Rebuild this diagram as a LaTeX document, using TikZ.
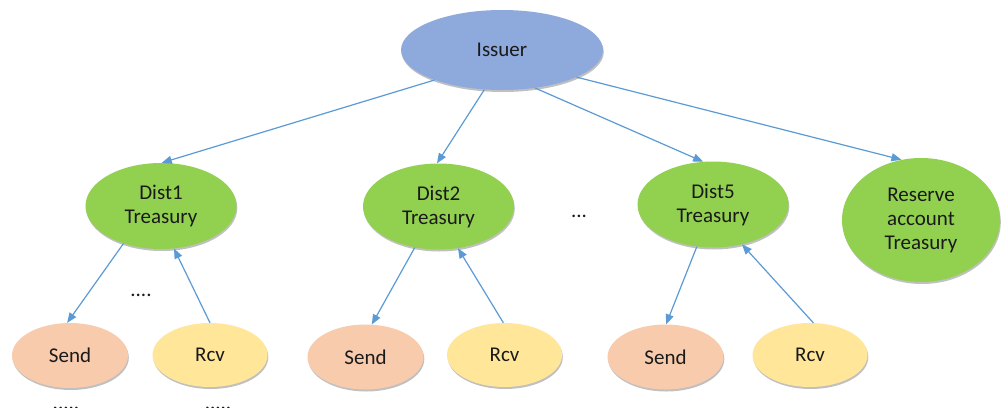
\documentclass[tikz,border=0pt]{standalone}
\usepackage{fontspec}
\setmainfont{Carlito}
\usetikzlibrary{shapes.geometric,arrows.meta,shadows}
\definecolor{lineblue}{HTML}{5B9BD5}
\definecolor{issuerblue}{HTML}{8EA9DB}
\definecolor{treasgreen}{HTML}{92D050}
\definecolor{sendpeach}{HTML}{F8CBAD}
\definecolor{rcvyellow}{HTML}{FFE699}
\definecolor{txt}{HTML}{1A1A1A}
\tikzset{
  bubble/.style={ellipse, inner sep=0pt, text=txt, align=center,
    font=\fontsize{21}{24}\selectfont,
    drop shadow={shadow xshift=0.8pt, shadow yshift=-2pt, opacity=0.35, fill=black!70}},
  issuerbox/.style={bubble, fill=issuerblue, minimum width=202pt, minimum height=80pt},
  treasbox/.style={bubble, fill=treasgreen, minimum width=151pt, minimum height=86pt},
  reservebox/.style={bubble, fill=treasgreen, minimum width=158pt, minimum height=124pt},
  sendbox/.style={bubble, fill=sendpeach, minimum width=116pt, minimum height=65pt},
  rcvbox/.style={bubble, fill=rcvyellow, minimum width=115pt, minimum height=64pt},
  link/.style={draw=lineblue, line width=1.2pt, -{Triangle[length=10pt,width=8pt]}},
  dots/.style={text=txt, font=\fontsize{21}{24}\selectfont, inner sep=0pt}
}
\begin{document}
\begin{tikzpicture}[x=1pt,y=-1pt]
\useasboundingbox[fill=white] (0,0) rectangle (1001,407);

\node[issuerbox] (iss) at (502,50) {Issuer};
\node[treasbox] (d1) at (161,206) {Dist1\\Treasury};
\node[treasbox] (d2) at (438.5,206.5) {Dist2\\Treasury};
\node[treasbox] (d5) at (713,204.5) {Dist5\\Treasury};
\node[reservebox] (res) at (921,220) {Reserve\\account\\Treasury};

\node[sendbox] (s1) at (70,355.5) {Send};
\node[rcvbox] (r1) at (210,355) {Rcv};
\node[sendbox] (s2) at (365.5,357) {Send};
\node[rcvbox] (r2) at (504.5,355) {Rcv};
\node[sendbox] (s5) at (665.5,357) {Send};
\node[rcvbox] (r5) at (810,355) {Rcv};

\node[dots, anchor=base] (dotsa) at (141,296) {....};
\node[dots, anchor=base] (dotsb) at (579,217) {...};
\node[dots, anchor=base] (dotsc) at (66,409) {.....};
\node[dots, anchor=base] (dotsd) at (218,409) {.....};

\draw[link] (iss.204.6) -- (d1.89);
\draw[link] (iss.246.4) -- (d2.92);
\draw[link] (iss.311) -- (d5.103.5);
\draw[link] (iss.340.7) -- (res.108);

\draw[link] (d1.225.7) -- (s1.95);
\draw[link] (r1.90) -- (d1.287);
\draw[link] (d2.240.6) -- (s2.79);
\draw[link] (r2.92.6) -- (d2.295.3);
\draw[link] (d5.249) -- (s5.89);
\draw[link] (r5.84.6) -- (d5.306.5);
\end{tikzpicture}
\end{document}
